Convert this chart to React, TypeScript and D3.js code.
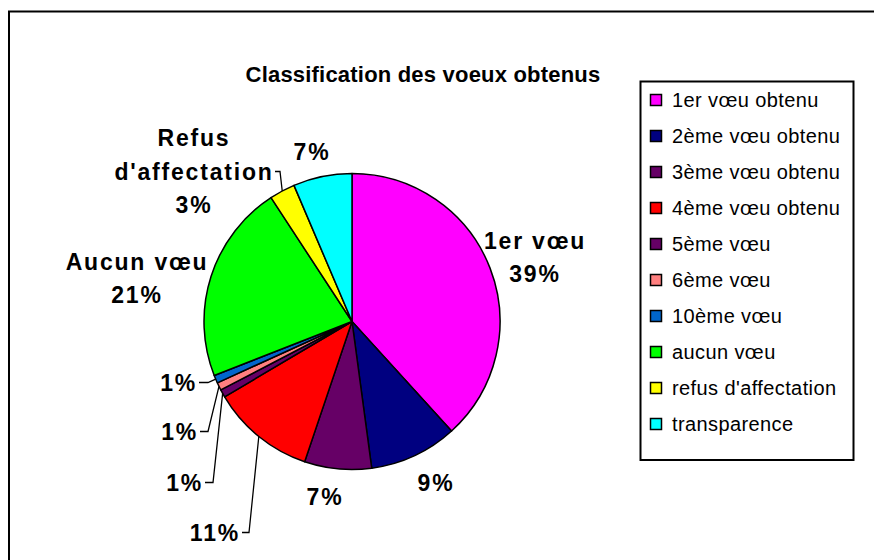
import React, { useRef, useEffect } from "react";
import * as d3 from "d3";

// shares of each category
const categories = [
  "1er vœu obtenu",
  "2ème vœu obtenu",
  "3ème vœu obtenu",
  "4ème vœu obtenu",
  "5ème vœu",
  "6ème vœu",
  "10ème vœu",
  "aucun vœu",
  "refus d'affectation",
  "transparence",
];
const values = [38.2, 9.6, 7.3, 11.3, 0.85, 0.85, 0.85, 21.7, 2.8, 6.4];
const percentLabels = ["39%", "9%", "7%", "11%", "1%", "1%", "1%", "21%", "3%", "7%"];
const nameLabels: string[][] = [
  ["1er vœu"],
  [],
  [],
  [],
  [],
  [],
  [],
  ["Aucun vœu"],
  ["Refus", "d'affectation"],
  [],
];
const colors = [
  "#FF00FF",
  "#000080",
  "#660066",
  "#FF0000",
  "#660066",
  "#FF8080",
  "#0066CC",
  "#00FF00",
  "#FFFF00",
  "#00FFFF",
];

// label placement relative to pie centre (dx, dy of the label block centre), anchor, leader bend
const labelLayout: { dx: number; dy: number; anchor: string; leader?: [number, number][] }[] = [
  { dx: 183, dy: -64, anchor: "middle" },
  { dx: 84, dy: 161, anchor: "middle" },
  { dx: -27, dy: 175, anchor: "middle" },
  { dx: -112, dy: 211, anchor: "end", leader: [[-103, 211], [-110, 211]] },
  { dx: -149, dy: 161, anchor: "end", leader: [[-139, 161], [-147, 161]] },
  { dx: -154, dy: 110, anchor: "end", leader: [[-144, 110], [-152, 110]] },
  { dx: -155, dy: 61, anchor: "end", leader: [[-144, 61], [-153, 61]] },
  { dx: -215, dy: -43, anchor: "middle" },
  { dx: -158, dy: -150, anchor: "middle", leader: [[-72, -150], [-77, -150]] },
  { dx: -40, dy: -170, anchor: "middle" },
];

const App: React.FC = () => {
  const ref = useRef<SVGSVGElement | null>(null);

  useEffect(() => {
    if (!ref.current) return;
    const svg = d3.select(ref.current);
    svg.selectAll("*").remove();

    const cx = 352;
    const cy = 321.5;
    const r = 148;

    // outer chart border (runs off the right/bottom of the picture)
    svg
      .append("rect")
      .attr("x", 9)
      .attr("y", 11.5)
      .attr("width", 900)
      .attr("height", 600)
      .attr("fill", "#fff")
      .attr("stroke", "#000")
      .attr("stroke-width", 2);

    svg
      .append("text")
      .attr("x", 423)
      .attr("y", 82)
      .attr("text-anchor", "middle")
      .attr("font-family", "Liberation Sans, Arial, sans-serif")
      .attr("font-weight", "bold")
      .attr("font-size", 22)
      .attr("letter-spacing", 0.2)
      .text("Classification des voeux obtenus");

    const pie = d3
      .pie<number>()
      .sort(null)
      .startAngle(0)
      .endAngle(2 * Math.PI)
      .value((d) => d);
    const arcs = pie(values);
    const arc = d3.arc<d3.PieArcDatum<number>>().innerRadius(0).outerRadius(r);

    const g = svg.append("g").attr("transform", `translate(${cx},${cy})`);
    g.selectAll("path")
      .data(arcs)
      .enter()
      .append("path")
      .attr("d", arc)
      .attr("fill", (_, i) => colors[i])
      .attr("stroke", "#000")
      .attr("stroke-width", 1.5)
      .attr("stroke-linejoin", "round");

    // leader lines
    arcs.forEach((a, i) => {
      const lay = labelLayout[i];
      if (!lay.leader) return;
      const mid = (a.startAngle + a.endAngle) / 2;
      const p0: [number, number] = [r * Math.sin(mid), -r * Math.cos(mid)];
      g.append("path")
        .attr("d", d3.line()([p0, ...lay.leader]))
        .attr("fill", "none")
        .attr("stroke", "#000")
        .attr("stroke-width", 1.3);
    });

    // labels
    arcs.forEach((_, i) => {
      const lay = labelLayout[i];
      const lines = [...nameLabels[i], percentLabels[i]];
      const lineH = 33.5;
      const y0 = lay.dy - ((lines.length - 1) * lineH) / 2;
      const t = g
        .append("text")
        .attr("text-anchor", lay.anchor)
        .attr("font-family", "Liberation Sans, Arial, sans-serif")
        .attr("font-weight", "bold")
        .attr("font-size", 23)
        .attr("letter-spacing", 1.8);
      lines.forEach((ln, k) => {
        t.append("tspan")
          .attr("x", lay.dx)
          .attr("y", y0 + k * lineH + 8)
          .text(ln);
      });
    });

    // legend
    const lx = 640.5;
    const ly = 81.5;
    svg
      .append("rect")
      .attr("x", lx)
      .attr("y", ly)
      .attr("width", 213)
      .attr("height", 378.5)
      .attr("fill", "#fff")
      .attr("stroke", "#000")
      .attr("stroke-width", 2);

    const item = svg
      .append("g")
      .selectAll("g")
      .data(categories)
      .enter()
      .append("g")
      .attr("transform", (_, i) => `translate(650,${100 + i * 36})`);
    item
      .append("rect")
      .attr("x", 0.5)
      .attr("y", -5.5)
      .attr("width", 11)
      .attr("height", 11)
      .attr("fill", (_, i) => colors[i])
      .attr("stroke", "#000")
      .attr("stroke-width", 1.5);
    item
      .append("text")
      .attr("x", 22)
      .attr("y", 7)
      .attr("font-family", "Liberation Sans, Arial, sans-serif")
      .attr("font-size", 20)
      .attr("letter-spacing", 0.4)
      .text((d) => d);
  }, []);

  return (
    <svg
      ref={ref}
      width={874}
      height={560}
      style={{ position: "absolute", left: 0, top: 0, display: "block" }}
    />
  );
};

export default App;
